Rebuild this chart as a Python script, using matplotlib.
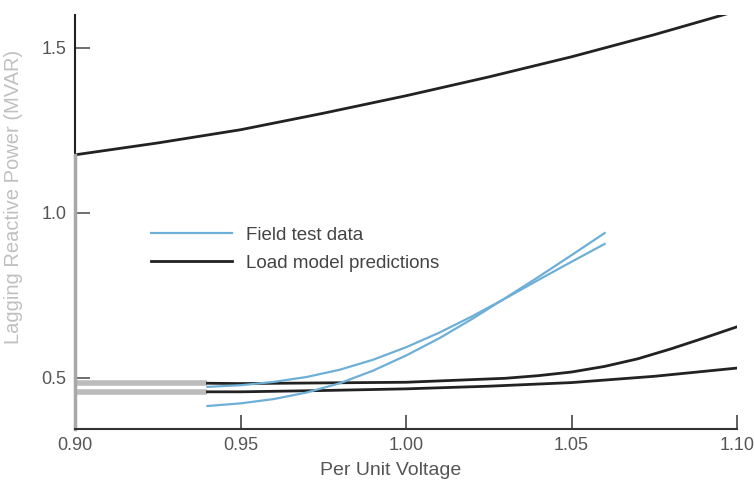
import matplotlib.pyplot as plt

plt.rcParams["font.family"] = ["Liberation Sans", "DejaVu Sans"]

# Voltaje por unidad y potencia reactiva (MVAR)
v_top = [0.90, 0.925, 0.95, 0.975, 1.00, 1.025, 1.05, 1.075, 1.10]
q_top = [1.176, 1.212, 1.252, 1.302, 1.355, 1.412, 1.473, 1.540, 1.612]

v_mid = [0.90, 0.94, 0.95, 1.00, 1.03, 1.04, 1.05, 1.06, 1.07, 1.08, 1.09, 1.10]
q_mid = [0.484, 0.484, 0.483, 0.487, 0.499, 0.507, 0.518, 0.535, 0.558, 0.588, 0.621, 0.655]

v_low = [0.90, 0.94, 0.95, 0.975, 1.00, 1.025, 1.05, 1.075, 1.10]
q_low = [0.458, 0.458, 0.458, 0.462, 0.467, 0.475, 0.486, 0.505, 0.530]

# datos de campo (dos barridos)
v_field = [0.94, 0.95, 0.96, 0.97, 0.98, 0.99, 1.00, 1.01, 1.02, 1.03, 1.04, 1.05, 1.06]
q_field_a = [0.473, 0.478, 0.488, 0.503, 0.525, 0.555, 0.593, 0.637, 0.687, 0.741, 0.797, 0.852, 0.906]
q_field_b = [0.415, 0.423, 0.436, 0.456, 0.484, 0.522, 0.568, 0.620, 0.679, 0.742, 0.806, 0.872, 0.939]

x_ticks = [0.90, 0.95, 1.00, 1.05, 1.10]
y_ticks = [0.5, 1.0, 1.5]

BLUE = "#6eafd7"
GREY = "#bcbcbc"
INK = "#222222"
V_FADE = 0.94  # tramo izquierdo desvanecido

fig = plt.figure(figsize=(7.54, 4.8), dpi=100)
ax = fig.add_axes([0.0995, 0.106, 0.878, 0.863])

def split(v, q, cut):
    left = [(a, b) for a, b in zip(v, q) if a <= cut]
    right = [(a, b) for a, b in zip(v, q) if a >= cut]
    return list(zip(*left)), list(zip(*right))

ax.plot(v_top, q_top, color=INK, lw=2)
for v, q in [(v_mid, q_mid), (v_low, q_low)]:
    (lv, lq), (rv, rq) = split(v, q, V_FADE)
    ax.plot(lv, lq, color=GREY, lw=4, solid_capstyle="butt")
    ax.plot(rv, rq, color=INK, lw=2)

ax.plot(v_field, q_field_a, color=BLUE, lw=1.6)
ax.plot(v_field, q_field_b, color=BLUE, lw=1.6)

ax.set_xlim(0.90, 1.10)
ax.set_ylim(0.345, 1.60)

for s in ["top", "right", "left"]:
    ax.spines[s].set_visible(False)
ax.spines["bottom"].set_color("#333333")
ax.spines["bottom"].set_linewidth(1.5)
# eje y: parte superior oscura, parte inferior gris
y_break = (q_top[0] - 0.345) / (1.60 - 0.345)
ax.axvline(0.90, ymin=y_break, ymax=1, color=INK, lw=1.5, clip_on=False)
ax.axvline(0.90, ymin=0, ymax=y_break, color="#a8a8a8", lw=2.5, clip_on=False)

ax.set_xticks(x_ticks)
ax.set_xticklabels([f"{t:.2f}" for t in x_ticks])
ax.set_yticks(y_ticks)
ax.set_yticklabels([f"{t:.1f}" for t in y_ticks])
ax.tick_params(axis="x", direction="in", length=10, width=1.2, color="#444444",
               labelsize=13, labelcolor="#555555", pad=6)
ax.tick_params(axis="y", direction="in", length=11, width=1.2, color="#555555",
               labelsize=13, labelcolor="#555555", pad=6)

ax.set_xlabel("Per Unit Voltage", fontsize=14, color="#555555")
ax.xaxis.set_label_coords(0.477, -0.08)
ax.set_ylabel("Lagging Reactive Power (MVAR)", fontsize=14.5, color="#c0c0c0")
ax.yaxis.set_label_coords(-0.078, 0.56)

h1, = ax.plot([], [], color=BLUE, lw=1.6)
h2, = ax.plot([], [], color=INK, lw=2)
ax.legend([h1, h2], ["Field test data", "Load model predictions"],
          loc="upper left", bbox_to_anchor=(0.09, 0.53), frameon=False,
          fontsize=13.5, handlelength=4.3, handletextpad=0.75, labelspacing=0.6,
          labelcolor="#444444")

plt.savefig("out.png", dpi=100)
